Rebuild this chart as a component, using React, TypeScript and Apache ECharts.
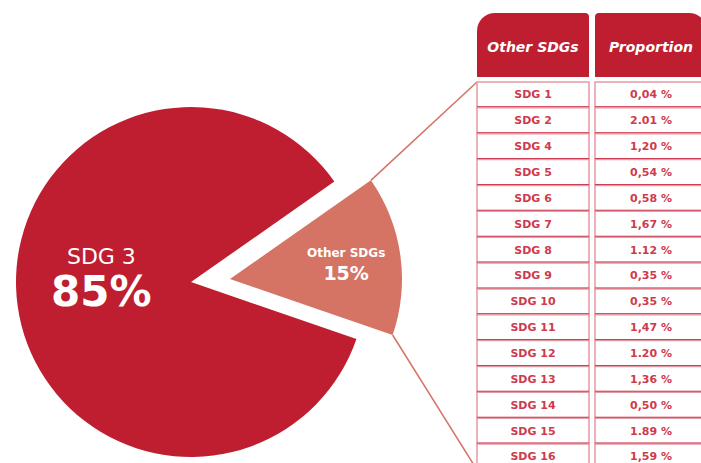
import React, { useEffect, useRef } from "react";
import * as echarts from "echarts";

const pieNames = ["Other SDGs", "SDG 3"];
const pieValues = [15, 85];
const tableHeaders = ["Other SDGs", "Proportion"];
const otherSdgs = [
  "SDG 1", "SDG 2", "SDG 4", "SDG 5", "SDG 6", "SDG 7", "SDG 8", "SDG 9",
  "SDG 10", "SDG 11", "SDG 12", "SDG 13", "SDG 14", "SDG 15", "SDG 16",
];
const proportionLabels = [
  "0,04 %", "2.01 %", "1,20 %", "0,54 %", "0,58 %", "1,67 %", "1.12 %", "0,35 %",
  "0,35 %", "1,47 %", "1.20 %", "1,36 %", "0,50 %", "1.89 %", "1,59 %",
];

const MAIN = "#BE1E2F";
const OTHER = "#D57364";
const TXT = "#CF3A4C";
const FONT = "DejaVu Sans";

export default function App() {
  const ref = useRef<HTMLDivElement>(null);
  useEffect(() => {
    document.body.style.margin = "0";
    const chart = echarts.init(ref.current!, null, { renderer: "svg" });

    const mainCenter = [191, 282];
    const mainR = 175;
    const otherCenter = [230, 279];
    const otherR = 172;
    const startAngle = 35;
    const total = pieValues[0] + pieValues[1];
    const endAngle = startAngle - (pieValues[0] / total) * 360;
    const rad = (a: number) => (a * Math.PI) / 180;
    const upper = [otherCenter[0] + otherR * Math.cos(rad(startAngle)), otherCenter[1] - otherR * Math.sin(rad(startAngle))];
    const lower = [otherCenter[0] + otherR * Math.cos(rad(endAngle)), otherCenter[1] - otherR * Math.sin(rad(endAngle))];

    const gridLeft = 477;
    const gridTop = 82;
    const band = 118;
    const rowH = 25.86;
    const gridH = rowH * otherSdgs.length;

    const tableData: number[][] = [];
    otherSdgs.forEach((_, i) => {
      tableData.push([0, i]);
      tableData.push([1, i]);
    });

    const mainLabel = {
      show: true,
      position: "inside",
      formatter: (p: any) => `{a|${p.name}}\n{b|${p.value}%}`,
      rich: {
        a: { fontFamily: FONT, fontSize: 22, color: "#fff", lineHeight: 28, align: "center" },
        b: { fontFamily: FONT, fontSize: 42, fontWeight: "bold", color: "#fff", lineHeight: 42, align: "center" },
      },
    };
    const otherLabel = {
      show: true,
      position: "inside",
      formatter: (p: any) => `{a|${p.name}}\n{b|${p.value}%}`,
      rich: {
        a: { fontFamily: FONT, fontSize: 12, fontWeight: "bold", color: "#fff", lineHeight: 18, align: "center" },
        b: { fontFamily: FONT, fontSize: 19, fontWeight: "bold", color: "#fff", lineHeight: 22, align: "center" },
      },
    };

    chart.setOption({
      animation: false,
      grid: {
        left: gridLeft,
        top: gridTop,
        width: band * 2,
        height: gridH,
        outerBoundsMode: "none",
      },
      xAxis: { type: "category", data: tableHeaders, show: false },
      yAxis: { type: "category", data: otherSdgs, inverse: true, show: false },
      series: [
        {
          type: "pie",
          silent: true,
          center: mainCenter,
          radius: mainR,
          startAngle,
          clockwise: true,
          labelLine: { show: false },
          labelLayout: { dy: -17 },
          data: [
            { name: pieNames[0], value: pieValues[0], itemStyle: { color: "rgba(0,0,0,0)" }, label: { show: false } },
            { name: pieNames[1], value: pieValues[1], itemStyle: { color: MAIN }, label: mainLabel },
          ],
        },
        {
          type: "pie",
          silent: true,
          center: otherCenter,
          radius: otherR,
          startAngle,
          clockwise: true,
          labelLine: { show: false },
          labelLayout: { dx: 28, dy: -3 },
          data: [
            { name: pieNames[0], value: pieValues[0], itemStyle: { color: OTHER }, label: otherLabel },
            { name: pieNames[1], value: pieValues[1], itemStyle: { color: "rgba(0,0,0,0)" }, label: { show: false } },
          ],
        },
        {
          type: "custom",
          silent: true,
          data: tableData,
          renderItem: (params: any, api: any) => {
            const i = params.dataIndex;
            const col = i % 2;
            const row = Math.floor(i / 2);
            const c = api.coord([col, row]);
            const s = api.size([1, 1]);
            const x = c[0] - s[0] / 2;
            const y = c[1] - s[1] / 2;
            const w = s[0] - 6;
            const h = s[1];
            const txt = col === 0 ? otherSdgs[row] : proportionLabels[row];
            return {
              type: "group",
              children: [
                { type: "rect", shape: { x, y, width: w, height: h }, style: { fill: "#fff", stroke: "#E59AA3", lineWidth: 1.5 } },
                { type: "line", shape: { x1: x, y1: y + h, x2: x + w, y2: y + h }, style: { stroke: "#C41E3A", lineWidth: 3 } },
                {
                  type: "text",
                  x: x + w / 2,
                  y: c[1],
                  style: { text: txt, fill: TXT, fontFamily: FONT, fontSize: 11, fontWeight: "bold", align: "center", verticalAlign: "middle" },
                },
              ],
            };
          },
        },
      ],
      graphic: [
        ...tableHeaders.map((t, k) => ({
          type: "group",
          children: [
            {
              type: "rect",
              shape: { x: gridLeft + k * band, y: 13, width: band - 6, height: 64, r: k === 0 ? [18, 4, 0, 0] : [4, 18, 0, 0] },
              style: { fill: MAIN },
            },
            {
              type: "text",
              x: gridLeft + k * band + (band - 6) / 2,
              y: 47,
              style: {
                text: t,
                fill: "#fff",
                fontFamily: FONT,
                fontSize: 14,
                fontWeight: "bold",
                fontStyle: "italic",
                align: "center",
                verticalAlign: "middle",
              },
            },
          ],
        })),
        {
          type: "line",
          shape: { x1: upper[0], y1: upper[1], x2: gridLeft, y2: gridTop },
          style: { stroke: OTHER, lineWidth: 1.5 },
        },
        {
          type: "line",
          shape: { x1: lower[0], y1: lower[1], x2: gridLeft, y2: gridTop + gridH },
          style: { stroke: OTHER, lineWidth: 1.5 },
        },
      ],
    });
    return () => chart.dispose();
  }, []);
  return <div ref={ref} style={{ width: 701, height: 463 }} />;
}
